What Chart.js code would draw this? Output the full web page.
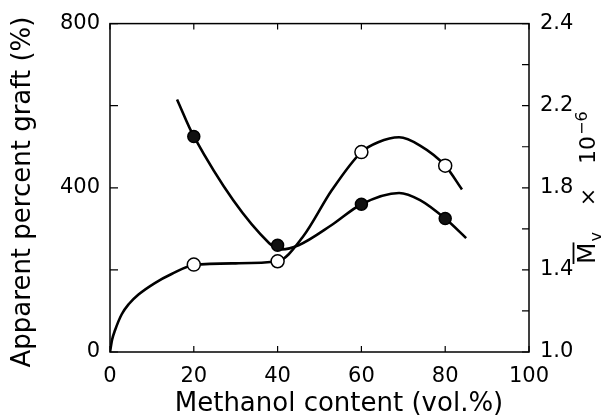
<!DOCTYPE html>
<html>
<head>
<meta charset="utf-8">
<script src="https://cdn.jsdelivr.net/npm/chart.js@4.4.1/dist/chart.umd.min.js"></script>
<style>
  html, body { margin: 0; padding: 0; background: #fff; }
  #wrap { width: 610px; height: 418px; }
</style>
</head>
<body>
<div id="wrap"><canvas id="graftChart"></canvas></div>
<script>
// methanol content (vol.%) of the measured samples
var methanol = [20, 40, 60, 80];
// open circles: apparent percent graft (%)
var graft = [213, 221, 487, 454];
// filled circles: Mv x 10^-6
var mv = [2.05, 1.52, 1.72, 1.65];

// the hand drawn curves
var graftCurveX = [0, 0.5, 1.2, 2.8, 4.5, 6.8, 10.7, 14.7, 20, 30, 40, 46, 53, 60, 64, 69, 74, 80, 84];
var graftCurveY = [0, 30, 53, 92, 117, 140, 168, 190, 212, 216, 221, 280, 395, 487, 511, 523, 503, 454, 396];
var mvCurveX = [16, 20, 38, 41, 45, 53, 60, 69, 74, 80, 85];
var mvCurveY = [2.23, 2.05, 1.53, 1.50, 1.52, 1.62, 1.72, 1.775, 1.74, 1.65, 1.555];

var xTicks = ['0', '20', '40', '60', '80', '100'];
var graftTicks = ['0', '', '400', '', '800'];
var mvTicks = ['1.0', '', '1.4', '', '1.8', '', '2.2', '', '2.4'];

var FONT = 'DejaVu Sans';

function pts(xs, ys) {
  return xs.map(function (x, i) { return { x: x, y: ys[i] }; });
}

// box, inward ticks and axis titles
var frame = {
  id: 'frame',
  afterDraw: function (chart) {
    var ctx = chart.ctx, a = chart.chartArea;
    var sx = chart.scales.x, sy = chart.scales.y, sy2 = chart.scales.y2;
    ctx.save();
    ctx.strokeStyle = '#000';
    ctx.lineWidth = 1.5;
    ctx.strokeRect(a.left, a.top, a.right - a.left, a.bottom - a.top);

    ctx.lineWidth = 1.2;
    ctx.beginPath();
    sx.ticks.forEach(function (t) {
      var px = sx.getPixelForValue(t.value);
      ctx.moveTo(px, a.bottom); ctx.lineTo(px, a.bottom - 6);
      ctx.moveTo(px, a.top); ctx.lineTo(px, a.top + 6);
    });
    sy.ticks.forEach(function (t) {
      var py = sy.getPixelForValue(t.value);
      ctx.moveTo(a.left, py); ctx.lineTo(a.left + 8, py);
    });
    sy2.ticks.forEach(function (t) {
      var py = sy2.getPixelForValue(t.value);
      ctx.moveTo(a.right, py); ctx.lineTo(a.right - 7, py);
    });
    ctx.stroke();

    ctx.fillStyle = '#000';
    ctx.font = '26px "' + FONT + '"';
    ctx.textAlign = 'center';
    ctx.textBaseline = 'middle';
    ctx.fillText('Methanol content (vol.%)', 339, 404);

    ctx.save();
    ctx.translate(23, 192);
    ctx.rotate(-Math.PI / 2);
    ctx.fillText('Apparent percent graft (%)', 0, 0);
    ctx.restore();

    // right title: Mv (with bar) x 10^-6, reading upwards
    ctx.save();
    ctx.translate(595, 264);
    ctx.rotate(-Math.PI / 2);
    ctx.textAlign = 'left';
    ctx.textBaseline = 'alphabetic';
    ctx.font = '25px "' + FONT + '"';
    var mw = ctx.measureText('M').width;
    ctx.fillText('M', 0, 0);
    ctx.lineWidth = 1.8;
    ctx.beginPath();
    ctx.moveTo(0, -21.5); ctx.lineTo(mw, -21.5);
    ctx.stroke();
    ctx.font = '16px "' + FONT + '"';
    ctx.fillText('v', mw + 1, 6);
    ctx.font = '22px "' + FONT + '"';
    ctx.textAlign = 'center';
    ctx.fillText('\u00d7', 67, 0);
    ctx.textAlign = 'left';
    ctx.fillText('10', 100, 0);
    var tw = ctx.measureText('10').width;
    ctx.font = '16px "' + FONT + '"';
    ctx.fillText('\u22126', 100 + tw + 1, -8);
    ctx.restore();

    ctx.restore();
  }
};

var tickFont = { family: FONT, size: 21 };

var chart = new Chart(document.getElementById('graftChart'), {
  type: 'scatter',
  data: {
    datasets: [
      {
        data: pts(methanol, graft),
        yAxisID: 'y',
        pointRadius: 6.5,
        pointBackgroundColor: '#fff',
        pointBorderColor: '#000',
        pointBorderWidth: 1.5,
        order: 0
      },
      {
        data: pts(methanol, mv),
        yAxisID: 'y2',
        pointRadius: 6,
        pointBackgroundColor: '#111',
        pointBorderColor: '#000',
        pointBorderWidth: 1.5,
        order: 0
      },
      {
        data: pts(graftCurveX, graftCurveY),
        yAxisID: 'y',
        showLine: true,
        pointRadius: 0,
        borderColor: '#000',
        borderWidth: 2.6,
        cubicInterpolationMode: 'monotone',
        order: 1
      },
      {
        data: pts(mvCurveX, mvCurveY),
        yAxisID: 'y2',
        showLine: true,
        pointRadius: 0,
        borderColor: '#000',
        borderWidth: 2.6,
        cubicInterpolationMode: 'monotone',
        order: 1
      }
    ]
  },
  options: {
    responsive: true,
    maintainAspectRatio: false,
    animation: false,
    layout: { padding: { top: 19, left: 0, right: 0, bottom: 0 } },
    plugins: {
      legend: { display: false },
      tooltip: { enabled: false }
    },
    scales: {
      x: {
        type: 'linear',
        min: 0,
        max: 100,
        grid: { display: false, drawTicks: false },
        border: { display: false },
        ticks: {
          stepSize: 20,
          padding: 12,
          color: '#000',
          font: tickFont,
          maxRotation: 0,
          callback: function (v, i) { return xTicks[i]; }
        },
        afterFit: function (s) { s.height = 66; }
      },
      y: {
        position: 'left',
        min: 0,
        max: 800,
        grid: { display: false, drawTicks: false },
        border: { display: false },
        ticks: {
          stepSize: 200,
          padding: 10,
          color: '#000',
          font: tickFont,
          autoSkip: false,
          callback: function (v, i) { return graftTicks[i]; }
        },
        afterFit: function (s) { s.width = 110; }
      },
      y2: {
        position: 'right',
        min: 1.0,
        max: 2.6,
        grid: { display: false, drawTicks: false },
        border: { display: false },
        ticks: {
          stepSize: 0.2,
          padding: 11,
          color: '#000',
          font: tickFont,
          autoSkip: false,
          callback: function (v, i) { return mvTicks[i]; }
        },
        afterFit: function (s) { s.width = 81; }
      }
    }
  },
  plugins: [frame]
});
</script>
</body>
</html>
